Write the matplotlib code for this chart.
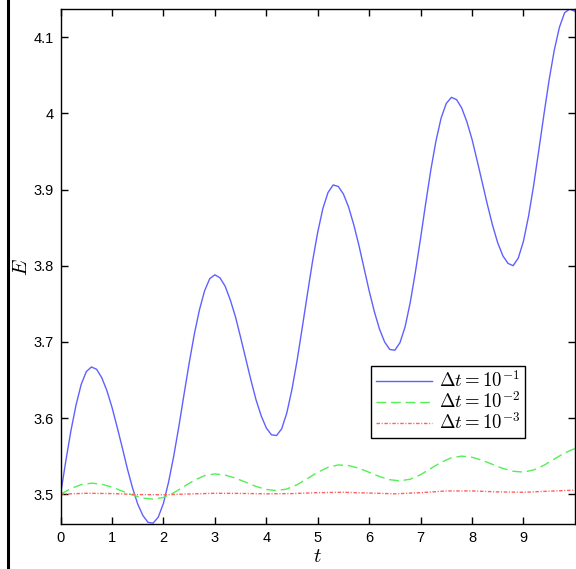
import numpy as np
import matplotlib
matplotlib.use("Agg")
import matplotlib.pyplot as plt
from matplotlib.lines import Line2D

plt.rcParams['mathtext.fontset'] = 'cm'
plt.rcParams['font.family'] = ['Liberation Sans', 'DejaVu Sans']

# Sample times
t_blue = np.round(np.arange(0, 101) * 0.1, 1)
t_green = np.round(np.arange(0, 51) * 0.2, 1)
t_red = np.round(np.arange(0, 21) * 0.5, 1)

# Energy, dt = 1e-1
E_blue = [3.500, 3.543, 3.583, 3.617, 3.644, 3.661, 3.667, 3.664, 3.653, 3.636,
          3.614, 3.588, 3.561, 3.533, 3.508, 3.487, 3.472, 3.463, 3.462, 3.470,
          3.488, 3.516, 3.550, 3.589, 3.631, 3.672, 3.710, 3.742, 3.767, 3.783,
          3.788, 3.784, 3.773, 3.755, 3.733, 3.706, 3.678, 3.650, 3.624, 3.603,
          3.587, 3.578, 3.577, 3.586, 3.607, 3.638, 3.676, 3.719, 3.763, 3.806,
          3.844, 3.875, 3.896, 3.906, 3.904, 3.894, 3.877, 3.854, 3.827, 3.797,
          3.767, 3.740, 3.717, 3.700, 3.690, 3.689, 3.699, 3.720, 3.752, 3.792,
          3.836, 3.882, 3.926, 3.964, 3.994, 4.013, 4.021, 4.018, 4.007, 3.989,
          3.966, 3.938, 3.909, 3.880, 3.853, 3.830, 3.813, 3.803, 3.800, 3.810,
          3.832, 3.865, 3.906, 3.952, 3.999, 4.044, 4.083, 4.113, 4.132, 4.137,
          4.134]

# Energy, dt = 1e-2
E_green = [3.5000, 3.5073, 3.5126, 3.5145, 3.5131, 3.5093, 3.5040, 3.4988, 3.4949, 3.4935,
           3.4957, 3.5018, 3.5101, 3.5183, 3.5244, 3.5266, 3.5251, 3.5211, 3.5157, 3.5102,
           3.5062, 3.5047, 3.5068, 3.5125, 3.5205, 3.5288, 3.5353, 3.5384, 3.5376, 3.5341,
           3.5287, 3.5232, 3.5190, 3.5175, 3.5197, 3.5256, 3.5338, 3.5419, 3.5478, 3.5500,
           3.5485, 3.5445, 3.5391, 3.5338, 3.5301, 3.5290, 3.5318, 3.5380, 3.5461, 3.5541,
           3.5599]

# Energy, dt = 1e-3
E_red = [3.5000, 3.5012, 3.5008, 3.4995, 3.4992, 3.5003, 3.5012, 3.5010, 3.5005, 3.5008,
         3.5020, 3.5025, 3.5015, 3.5005, 3.5020, 3.5042, 3.5043, 3.5030, 3.5025, 3.5040,
         3.5053]

labels = [r'$\Delta t = 10^{-1}$', r'$\Delta t = 10^{-2}$', r'$\Delta t = 10^{-3}$']
xticks = [0, 1, 2, 3, 4, 5, 6, 7, 8, 9]
yticks = [3.5, 3.6, 3.7, 3.8, 3.9, 4.0, 4.1]
yticklabels = ['3.5', '3.6', '3.7', '3.8', '3.9', '4', '4.1']

fig = plt.figure(figsize=(5.76, 5.69), dpi=100)
ax = fig.add_axes([0.1052, 0.0786, 0.8928, 0.9056])

ax.plot(t_blue, E_blue, color='#6060ff', lw=1.0, label=labels[0])
ax.plot(t_green, E_green, color='#55ee55', lw=1.0, linestyle=(0, (7, 3.5)), label=labels[1])
ax.plot(t_red, E_red, color='#ff6060', lw=1.0, linestyle=(0, (2.5, 1.2, 0.8, 1.2)), label=labels[2])

ax.set_xlim(0, 10)
ax.set_ylim(3.4605, 4.137)
ax.set_xticks(xticks)
ax.set_yticks(yticks)
ax.set_yticklabels(yticklabels)
ax.tick_params(direction='in', length=5, width=1, top=True, right=True,
               labelsize=10.5, colors='black', pad=5)
for s in ax.spines.values():
    s.set_linewidth(1.0)

ax.set_xlabel(r'$t$', fontsize=15, labelpad=1)
ax.set_ylabel(r'$E$', fontsize=15, labelpad=2)

leg = ax.legend(loc='lower right', bbox_to_anchor=(0.903, 0.1675), fontsize=13.5,
                frameon=True, fancybox=False, edgecolor='black', framealpha=1,
                handlelength=3.0, handletextpad=0.35, borderpad=0.25, labelspacing=0.0,
                borderaxespad=0)
leg.get_frame().set_linewidth(1.0)

# page border on the left
fig.add_artist(Line2D([0.0139, 0.0139], [0, 1], transform=fig.transFigure,
                      color='black', lw=2.2))

fig.savefig('out.png', dpi=100)
